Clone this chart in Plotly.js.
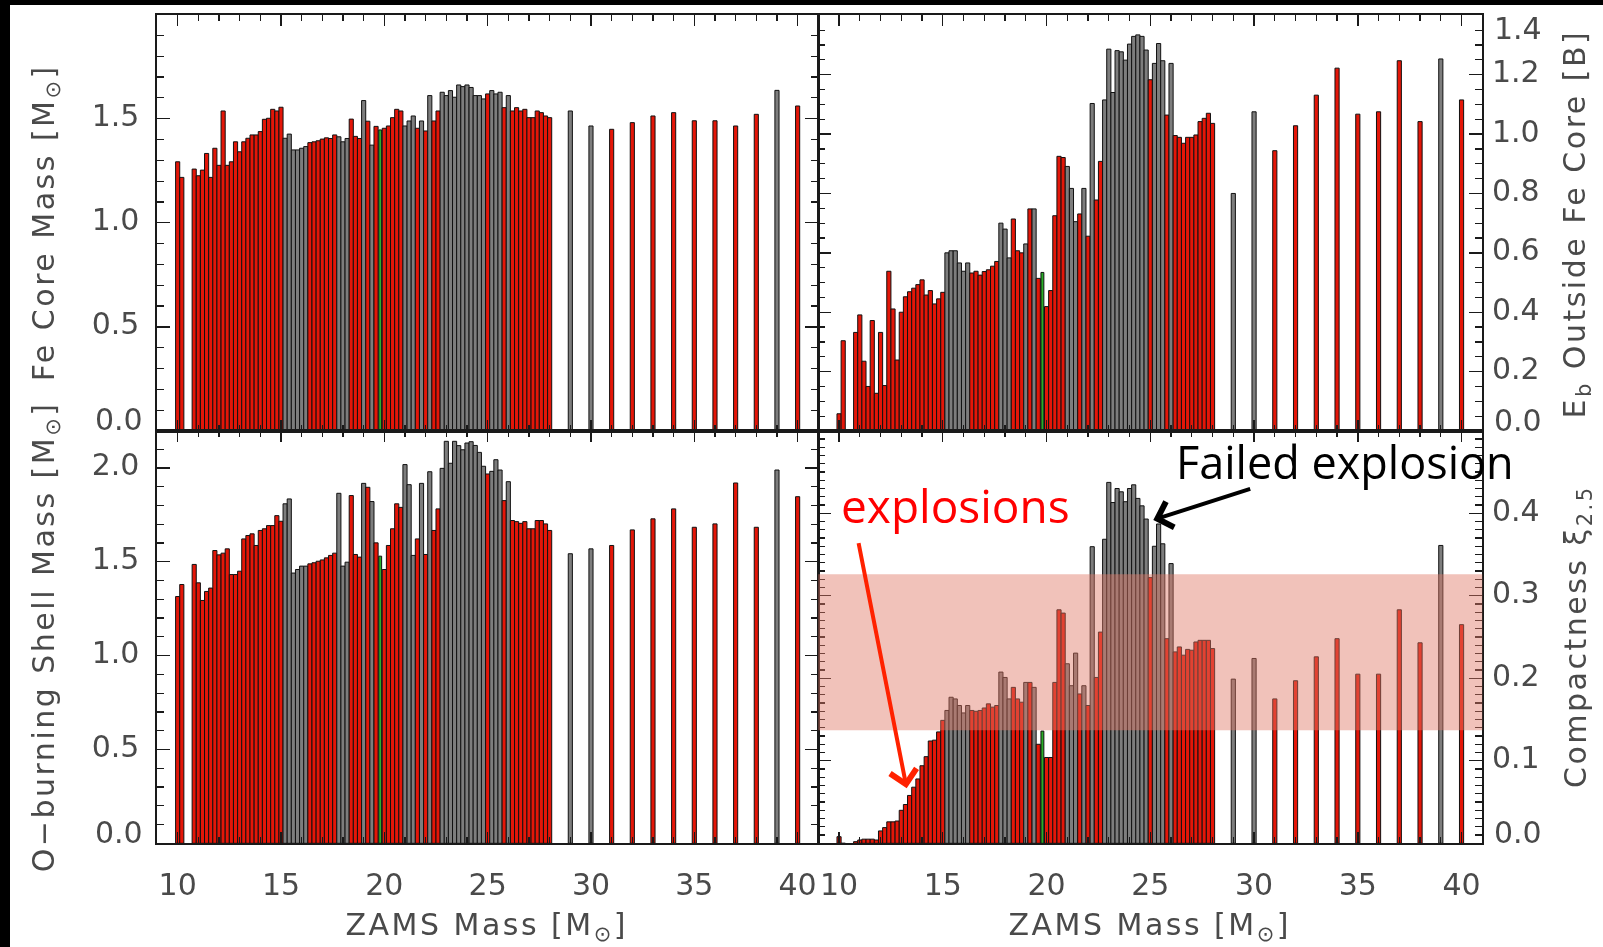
<!DOCTYPE html>
<html><head><meta charset="utf-8">
<script src="https://cdn.plot.ly/plotly-3.0.1.min.js"></script>
<style>
html,body{margin:0;padding:0;background:#fff;}
#chart{width:1603px;height:947px;}
.layer-above .shapelayer path{mix-blend-mode:multiply;}
g.annotation[data-index="0"] text, g.annotation[data-index="1"] text,
g.annotation[data-index="2"] text, g.annotation[data-index="3"] text,
g.annotation[data-index="4"] text, g.annotation[data-index="5"] text{letter-spacing:2.5px;}
</style>
</head><body><div id="chart"></div>
<script>
// ZAMS masses of the progenitor models
const masses = [10.0,10.2,10.8,11.0,11.2,11.4,11.6,11.8,12.0,12.2,12.4,12.6,12.8,13.0,13.2,13.4,13.6,13.8,14.0,14.2,14.4,14.6,14.8,15.0,
15.2,15.4,15.6,15.8,16.0,16.2,16.4,16.6,16.8,17.0,17.2,17.4,17.6,17.8,18.0,18.2,18.4,18.6,18.8,19.0,19.2,19.4,19.6,19.8,
20.0,20.2,20.4,20.6,20.8,21.0,21.2,21.4,21.6,21.8,22.0,22.2,22.4,22.6,22.8,23.0,23.2,23.4,23.6,23.8,24.0,24.2,24.4,24.6,24.8,
25.0,25.2,25.4,25.6,25.8,26.0,26.2,26.4,26.6,26.8,27.0,27.2,27.4,27.6,27.8,28.0,
29,30,31,32,33,34,35,36,37,38,39,40];
// E = explosion, F = failed explosion, C = calibration model
const outcome = ("EEEEEEEEEEEEEEEEEEEEEEEE" + "FFFFFF" + "EEEEEEE" + "FFF" + "EEE" + "FEFEC" + "EEEEE" + "FFF" +
  "EFEFEE" + "FFFFFFFFFFF" + "EFFFEF" + "EEEEEEEEEE" + "FFEEEEEEEEFE").split("");
const feCoreMass = [1.293,1.218,1.258,1.226,1.253,1.333,1.218,1.358,1.276,1.537,1.276,1.293,1.389,1.341,1.389,1.406,1.422,1.422,1.438,1.497,1.502,1.545,1.537,1.555,
1.406,1.426,1.35,1.35,1.358,1.366,
1.385,1.389,1.394,1.402,1.408,1.405,1.422,
1.413,1.389,1.405,
1.498,1.415,1.405,
1.587,1.488,1.373,1.463,1.446,
1.454,1.465,1.505,1.545,1.537,
1.465,1.489,1.513,
1.454,1.489,1.441,1.611,1.489,1.537,
1.627,1.611,1.635,1.603,1.662,1.654,1.662,1.65,1.611,1.611,1.595,
1.619,1.635,1.619,1.627,1.553,1.611,
1.537,1.553,1.537,1.545,1.505,1.505,1.537,1.529,1.513,1.505,
1.537,1.465,1.449,1.481,1.513,1.529,1.49,1.49,1.465,1.521,1.636,1.561];
const bindingEnergy = [0.058,0.304,0.332,0.391,0.235,0.150,0.372,0.127,0.332,0.153,0.538,0.411,0.239,0.400,0.452,0.469,0.481,0.493,0.509,0.458,0.473,0.428,0.445,0.467,
0.600,0.607,0.607,0.566,0.538,0.566,
0.532,0.538,0.525,0.537,0.543,0.555,0.571,
0.700,0.680,0.583,
0.714,0.607,0.600,
0.630,0.748,0.748,0.514,0.534,
0.419,0.473,0.725,0.925,0.921,
0.891,0.817,0.705,
0.731,0.817,0.656,1.103,0.778,0.908,
1.115,1.286,1.140,1.281,1.277,1.249,1.303,1.329,1.334,1.329,1.283,
1.183,1.238,1.305,1.247,1.064,1.238,
0.995,0.989,0.969,0.989,0.989,0.997,1.042,1.053,1.070,1.036,
0.800,1.075,0.944,1.028,1.131,1.222,1.067,1.075,1.247,1.042,1.253,1.115];
const oShellMass = [1.315,1.379,1.486,1.388,1.294,1.342,1.360,1.560,1.537,1.546,1.569,1.432,1.432,1.450,1.622,1.640,1.649,1.587,1.667,1.676,1.693,1.693,1.746,1.716,
1.809,1.835,1.440,1.459,1.477,1.477,
1.489,1.495,1.503,1.510,1.521,1.534,1.546,
1.865,1.477,1.498,
1.853,1.539,1.525,
1.918,1.897,1.821,1.601,1.530,
1.459,1.587,1.676,1.809,1.790,
2.018,1.911,1.534,
1.622,1.918,1.539,1.980,1.667,1.782,
1.998,2.142,2.025,2.142,2.119,2.097,2.133,2.140,2.120,2.083,2.009,
1.968,1.982,2.044,1.989,1.826,1.927,
1.720,1.714,1.705,1.714,1.676,1.676,1.720,1.720,1.702,1.667,
1.543,1.569,1.587,1.670,1.729,1.782,1.684,1.702,1.920,1.684,1.989,1.847];
const compactness = [0.008,0.000,0.002,0.004,0.005,0.005,0.005,0.004,0.015,0.019,0.026,0.026,0.027,0.040,0.047,0.058,0.068,0.078,0.094,0.105,0.124,0.125,0.135,0.149,
0.161,0.177,0.175,0.167,0.158,0.167,
0.161,0.160,0.161,0.164,0.169,0.165,0.167,
0.2075,0.201,0.175,
0.189,0.175,0.171,
0.195,0.195,0.189,0.120,0.136,
0.104,0.104,0.195,0.283,0.279,
0.2176,0.191,0.2305,
0.181,0.191,0.167,0.3595,0.201,0.256,
0.3685,0.4374,0.413,0.430,0.426,0.414,0.430,0.4345,0.418,0.409,0.393,
0.322,0.360,0.387,0.363,0.248,0.339,
0.232,0.238,0.228,0.235,0.234,0.244,0.246,0.246,0.246,0.236,
0.199,0.224,0.175,0.197,0.226,0.248,0.205,0.205,0.283,0.243,0.361,0.265];
const compactnessBand = [0.137, 0.326];
// y tick values / labels per panel (end labels are placed inward, as in the original)
const feTicks = [0, 0.5, 1.0, 1.5];
const ebTicks = [0, 0.2, 0.4, 0.6, 0.8, 1.0, 1.2, 1.4];
const oTicks = [0, 0.5, 1.0, 1.5, 2.0];
const xiTicks = [0, 0.1, 0.2, 0.3, 0.4];

const W = 1603, H = 947;
const px = v => v / W, py = v => 1 - v / H;
const fillFor = {E:'rgb(228,22,8)', F:'rgb(125,125,125)', C:'rgb(40,175,40)'};
const colors = outcome.map(o => fillFor[o]);
const widths = outcome.map(o => o === 'C' ? 0.14 : 0.2);
const fmt = v => v.toFixed(1);

function barTrace(y, xa, ya){
  return {type:'bar', x:masses, y:y, width:widths, xaxis:xa, yaxis:ya,
    marker:{color:colors, line:{color:'#111', width:1}}, hoverinfo:'skip', showlegend:false};
}
const tickFont = {family:'DejaVu Sans', size:30, color:'#4a4a4a'};
const ink = '#1a1a1a';
function xAxis(dom, anchor, labels){
  return {domain:dom, anchor:anchor, range:[9,41], tickmode:'linear', tick0:10, dtick:5,
    showticklabels:labels, tickfont:tickFont, ticklabelstandoff:14, ticklabeloverflow:'allow',
    ticks:'inside', ticklen:11, tickwidth:1.4, tickcolor:ink,
    minor:{ticks:'inside', tick0:10, dtick:1, ticklen:6, tickwidth:1.2, tickcolor:ink, showgrid:false},
    showline:true, linecolor:ink, linewidth:1.6, mirror:'ticks', showgrid:false, zeroline:false, fixedrange:true};
}
// labels at the two ends of an axis are drawn separately (shifted inward)
function yAxis(dom, anchor, side, range, vals, mdtick, hideTop){
  const text = vals.map((v, i) => (i === 0 || (hideTop && i === vals.length - 1)) ? '' : fmt(v));
  return {domain:dom, anchor:anchor, side:side, range:range, tickmode:'array', tickvals:vals, ticktext:text,
    tickfont:tickFont, ticklabelstandoff:(side === 'right' ? 2 : 10), ticklabelshift:-3, ticklabeloverflow:'allow',
    ticks:'inside', ticklen:13, tickwidth:1.4, tickcolor:ink,
    minor:{ticks:'inside', tickmode:'linear', tick0:0, dtick:mdtick, ticklen:7, tickwidth:1.2, tickcolor:ink, showgrid:false},
    showline:true, linecolor:ink, linewidth:1.6, mirror:'ticks', showgrid:false, zeroline:false, fixedrange:true};
}
const xL = [px(157), px(818.3)], xR = [px(818.3), px(1482.3)];
const yT = [py(431), py(15)], yB = [py(843.3), py(431)];

const titleFont = {family:'DejaVu Sans', size:30, color:'#4a4a4a'};
function endLabel(text, side, ypx){
  return {xref:'paper', yref:'paper', x: side === 'left' ? px(145) : px(1492), y:py(ypx), text:text, showarrow:false,
    font:tickFont, xanchor: side === 'left' ? 'right' : 'left', yanchor:'middle'};
}

const layout = {
  width:W, height:H, margin:{l:0,r:0,t:0,b:0}, paper_bgcolor:'#fff', plot_bgcolor:'rgba(0,0,0,0)',
  bargap:0, showlegend:false,
  xaxis: xAxis(xL,'y',false),
  yaxis: yAxis(yT,'x','left',[0,1.998],feTicks,0.1,false),
  xaxis2: xAxis(xR,'y2',false),
  yaxis2: yAxis(yT,'x2','right',[0,1.401],ebTicks,0.05,true),
  xaxis3: xAxis(xL,'y3',true),
  yaxis3: yAxis(yB,'x3','left',[0,2.197],oTicks,0.1,false),
  xaxis4: xAxis(xR,'y4',true),
  yaxis4: yAxis(yB,'x4','right',[0,0.4997],xiTicks,0.01,false),
  shapes:[
    {type:'rect', xref:'x4 domain', x0:0, x1:1, yref:'y4', y0:compactnessBand[0], y1:compactnessBand[1],
     fillcolor:'rgba(224,119,102,0.45)', line:{width:0}, layer:'above'},
    {type:'rect', xref:'paper', yref:'paper', x0:0, x1:px(10), y0:0, y1:1, fillcolor:'#000', line:{width:0}, layer:'above'},
    {type:'rect', xref:'paper', yref:'paper', x0:0, x1:1, y0:py(5), y1:1, fillcolor:'#000', line:{width:0}, layer:'above'}
  ],
  annotations:[
    {xref:'paper', yref:'paper', x:px(45), y:py(223), text:'Fe Core Mass [M<sub>⊙</sub>]', textangle:-90, showarrow:false, font:titleFont, xanchor:'center', yanchor:'middle'},
    {xref:'paper', yref:'paper', x:px(45), y:py(637), text:'O−burning Shell Mass [M<sub>⊙</sub>]', textangle:-90, showarrow:false, font:titleFont, xanchor:'center', yanchor:'middle'},
    {xref:'paper', yref:'paper', x:px(1577), y:py(224), text:'E<sub>b</sub> Outside Fe Core [B]', textangle:-90, showarrow:false, font:titleFont, xanchor:'center', yanchor:'middle'},
    {xref:'paper', yref:'paper', x:px(1577), y:py(637), text:'Compactness ξ<sub>2.5</sub>', textangle:-90, showarrow:false, font:titleFont, xanchor:'center', yanchor:'middle'},
    {xref:'paper', yref:'paper', x:px(487), y:py(926), text:'ZAMS Mass [M<sub>⊙</sub>]', showarrow:false, font:titleFont, xanchor:'center', yanchor:'middle'},
    {xref:'paper', yref:'paper', x:px(1150), y:py(926), text:'ZAMS Mass [M<sub>⊙</sub>]', showarrow:false, font:titleFont, xanchor:'center', yanchor:'middle'},
    {xref:'paper', yref:'paper', x:px(955), y:py(505), text:'explosions', showarrow:false, font:{family:'Open Sans', size:46, color:'#ff0000'}, xanchor:'center', yanchor:'middle'},
    {xref:'paper', yref:'paper', x:px(1345), y:py(462), text:'Failed explosion', showarrow:false, font:{family:'Open Sans', size:45, color:'#000'}, xanchor:'center', yanchor:'middle'},
    {xref:'paper', yref:'paper', x:px(906.7), y:py(788.3), ax:858.3-906.7, ay:541.7-788.3, text:'', showarrow:true,
     arrowhead:4, arrowsize:1.3, arrowwidth:4, arrowcolor:'#ff2200'},
    {xref:'paper', yref:'paper', x:px(1153.3), y:py(520), ax:1251.7-1153.3, ay:488.3-520, text:'', showarrow:true,
     arrowhead:4, arrowsize:1.3, arrowwidth:4, arrowcolor:'#000'},
    endLabel(fmt(feTicks[0]), 'left', 419),
    endLabel(fmt(oTicks[0]), 'left', 832),
    endLabel(fmt(ebTicks[0]), 'right', 420),
    endLabel(fmt(ebTicks[ebTicks.length-1]), 'right', 28),
    endLabel(fmt(xiTicks[0]), 'right', 832)
  ]
};

const data = [
  barTrace(feCoreMass,'x','y'),
  barTrace(bindingEnergy,'x2','y2'),
  barTrace(oShellMass,'x3','y3'),
  barTrace(compactness,'x4','y4')
];
Plotly.newPlot('chart', data, layout, {staticPlot:true, displayModeBar:false});
</script>
</body></html>
